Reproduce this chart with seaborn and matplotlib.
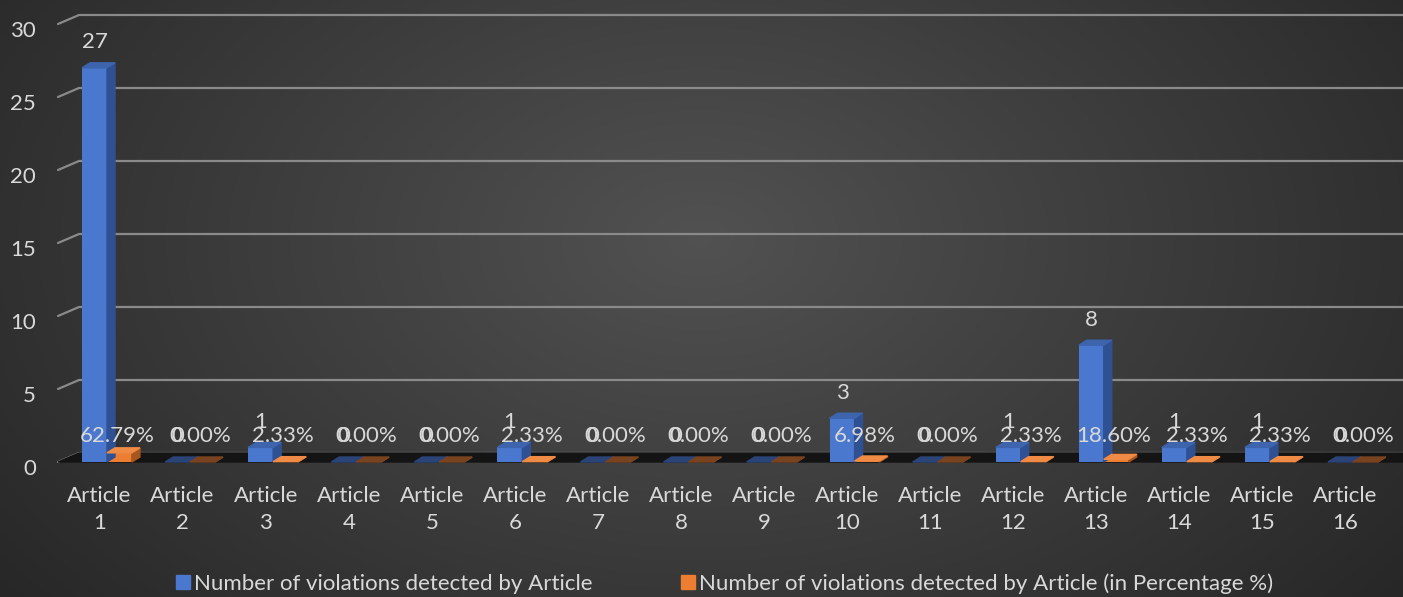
import matplotlib
matplotlib.use("Agg")
import matplotlib.pyplot as plt
import matplotlib.transforms as mtransforms
import numpy as np
import pandas as pd
import seaborn as sns
from matplotlib.lines import Line2D
from matplotlib.patches import Polygon

ARTICLES = [f"Article\n{i}" for i in range(1, 17)]
COUNTS = [27, 0, 1, 0, 0, 1, 0, 0, 0, 3, 0, 1, 8, 1, 1, 0]
PCT = [0.6279, 0.0, 0.0233, 0.0, 0.0, 0.0233, 0.0, 0.0, 0.0,
       0.0698, 0.0, 0.0233, 0.1860, 0.0233, 0.0233, 0.0]
SERIES = ["Number of violations detected by Article",
          "Number of violations detected by Article (in Percentage %)"]
YTICKS = [0, 5, 10, 15, 20, 25, 30]

BLUE, BLUE_SIDE, BLUE_TOP = "#4a78cf", "#2f5193", "#3d64ad"
ORANGE, ORANGE_SIDE, ORANGE_TOP = "#ed7d31", "#a8561f", "#f08b45"
TXT = "#d9d9d9"
GRID = "#8a8a8a"
FS = 16

df = pd.DataFrame({
    "article": ARTICLES * 2,
    "value": COUNTS + PCT,
    "series": [SERIES[0]] * 16 + [SERIES[1]] * 16,
})

sns.set_style("dark")
plt.rcParams["font.family"] = ["Lato", "DejaVu Sans"]

W, H = 1403, 597
fig = plt.figure(figsize=(W / 100, H / 100), dpi=100)

# background: soft radial gradient
bg = fig.add_axes([0, 0, 1, 1], zorder=-10)
yy, xx = np.mgrid[0:H, 0:W]
r = np.sqrt(((xx - 700) / 800) ** 2 + ((yy - 240) / 520) ** 2)
g = np.clip(0.32 - 0.15 * r, 0.15, 0.32)
bg.imshow(np.dstack([g, g, g]), aspect="auto", extent=[0, 1, 0, 1])
bg.set_axis_off()

ax = fig.add_axes([58 / W, (H - 462) / H, (1387 - 58) / W, 438 / H])
ax.patch.set_alpha(0)
sns.barplot(data=df, x="article", y="value", hue="series",
            palette=[BLUE, ORANGE], width=0.6, saturation=1,
            legend=False, ax=ax, zorder=3)
ax.set_xlim(-0.5, 15.5)
ax.set_ylim(0, 30)

# px -> data units
ux = 16 / (1387 - 58)
uy = 30 / 438
wdx, wdy = 21 * ux, 9 * uy      # back wall offset
bdx, bdy = 8 * ux, 5 * uy       # bar depth

# back wall gridlines with diagonal stubs
for v in YTICKS:
    ax.add_line(Line2D([-0.5, -0.5 + wdx, 16.2], [v, v + wdy, v + wdy],
                       color=GRID, lw=1.6, clip_on=False, zorder=1))
# floor
ax.add_patch(Polygon([[-0.5, 0], [15.7, 0], [15.7 + wdx, wdy], [-0.5 + wdx, wdy]],
                     closed=True, color="#141414", clip_on=False, zorder=2))

# fake 3d faces + slight shift to sit like the reference
for i, p in enumerate(ax.patches[:32]):
    p.set_x(p.get_x() + 0.09)
    p.set_linewidth(0)
    x0, w, h = p.get_x(), p.get_width(), p.get_height()
    blue = i < 16
    side = BLUE_SIDE if blue else ORANGE_SIDE
    top = BLUE_TOP if blue else ORANGE_TOP
    if h == 0:
        top = "#2b4478" if blue else "#7a4320"
    ax.add_patch(Polygon([[x0 + w, 0], [x0 + w + bdx, bdy], [x0 + w + bdx, h + bdy], [x0 + w, h]],
                         closed=True, color=side, zorder=3, clip_on=False))
    ax.add_patch(Polygon([[x0, h], [x0 + bdx, h + bdy], [x0 + w + bdx, h + bdy], [x0 + w, h]],
                         closed=True, color=top, zorder=3, clip_on=False))

# data labels (zero counts overlap the "0.00%" like in the original)
blue_bars = ax.patches[:16]
orange_bars = ax.patches[16:32]
for b, c in zip(blue_bars, COUNTS):
    ax.text(b.get_x() + b.get_width() / 2, c + 1.75, f"{c}",
            ha="center", va="center", color=TXT, fontsize=FS, zorder=5)
for b, p in zip(orange_bars, PCT):
    ax.text(b.get_x() + b.get_width() / 2 - 0.03, 1.75, f"{p:.2%}",
            ha="center", va="center", color=TXT, fontsize=FS, zorder=5)

ax.set_yticks(YTICKS)
ax.set_xlabel("")
ax.set_ylabel("")
ax.tick_params(axis="both", length=0, colors=TXT, labelsize=FS)
ax.tick_params(axis="y", pad=16)
ax.tick_params(axis="x", pad=17)
for t in ax.get_xticklabels():
    t.set_linespacing(1.45)
shift = mtransforms.ScaledTranslation(0, -0.05, fig.dpi_scale_trans)
for t in ax.get_yticklabels():
    t.set_transform(t.get_transform() + shift)
ax.grid(False)
for s in ax.spines.values():
    s.set_visible(False)

handles = [Line2D([], [], marker="s", ls="", markersize=10, color=BLUE),
           Line2D([], [], marker="s", ls="", markersize=10, color=ORANGE)]
fig.legend(handles, SERIES, loc="center", bbox_to_anchor=(0.515, 0.022), ncol=2,
           frameon=False, fontsize=FS, labelcolor=TXT, handletextpad=0.0,
           columnspacing=3.8, handlelength=1.0)

fig.savefig("out.png", dpi=100)
